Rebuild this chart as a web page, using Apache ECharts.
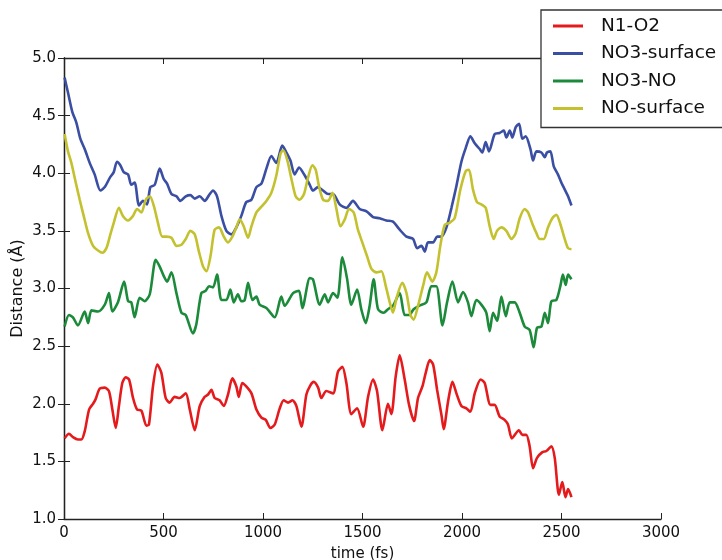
<!DOCTYPE html>
<html>
<head>
<meta charset="utf-8">
<script src="https://cdn.jsdelivr.net/npm/echarts@6/dist/echarts.min.js"></script>
<style>
  html, body { margin: 0; padding: 0; background: #fff; }
  #chart { width: 722px; height: 560px; }
</style>
</head>
<body>
<div id="chart"></div>
<script>
// Axis ticks
const xTicks = [0, 500, 1000, 1500, 2000, 2500, 3000];
const yTicks = [1.0, 1.5, 2.0, 2.5, 3.0, 3.5, 4.0, 4.5, 5.0];

// N1-O2 distance over time (fs, Å)
const n1o2Time = [3, 25, 45, 70, 87, 104, 126, 146, 159, 179, 205, 226, 243, 260, 276, 293, 310, 327, 347, 367, 389, 414, 427, 447, 469, 489, 511, 531, 556, 581, 612, 632, 657, 682, 707, 724, 741, 757, 782, 803, 824, 846, 866, 878, 896, 916, 942, 967, 992, 1014, 1037, 1059, 1084, 1104, 1126, 1148, 1168, 1193, 1218, 1238, 1255, 1277, 1293, 1318, 1352, 1377, 1399, 1419, 1444, 1473, 1503, 1528, 1553, 1573, 1600, 1628, 1645, 1667, 1687, 1712, 1734, 1759, 1779, 1801, 1818, 1838, 1855, 1875, 1897, 1908, 1930, 1952, 1972, 1997, 2022, 2042, 2064, 2094, 2114, 2143, 2164, 2189, 2214, 2231, 2251, 2286, 2303, 2323, 2340, 2357, 2377, 2404, 2424, 2449, 2466, 2487, 2504, 2520, 2533, 2550];
const n1o2Value = [1.70, 1.74, 1.71, 1.69, 1.69, 1.76, 1.95, 2.00, 2.04, 2.13, 2.14, 2.11, 1.95, 1.79, 1.98, 2.18, 2.23, 2.21, 2.05, 1.95, 1.94, 1.81, 1.82, 2.15, 2.34, 2.27, 2.05, 2.01, 2.06, 2.05, 2.09, 1.95, 1.77, 1.98, 2.06, 2.08, 2.12, 2.05, 2.03, 1.98, 2.08, 2.22, 2.15, 2.06, 2.18, 2.15, 2.09, 1.95, 1.88, 1.86, 1.79, 1.82, 1.96, 2.03, 2.01, 2.03, 1.98, 1.80, 2.08, 2.16, 2.19, 2.14, 2.05, 2.11, 2.09, 2.28, 2.32, 2.18, 1.91, 1.96, 1.80, 2.06, 2.21, 2.11, 1.77, 2.00, 1.91, 2.24, 2.42, 2.21, 1.99, 1.85, 2.05, 2.15, 2.27, 2.38, 2.34, 2.12, 1.90, 1.78, 2.02, 2.19, 2.09, 1.98, 1.96, 1.93, 2.09, 2.21, 2.18, 1.99, 1.99, 1.89, 1.86, 1.82, 1.70, 1.77, 1.73, 1.73, 1.63, 1.44, 1.53, 1.58, 1.59, 1.63, 1.53, 1.21, 1.32, 1.19, 1.26, 1.19];

// NO3-surface distance
const no3SurfTime = [3, 20, 42, 62, 82, 104, 129, 154, 183, 205, 230, 250, 266, 283, 300, 322, 338, 355, 377, 397, 417, 434, 456, 481, 501, 518, 540, 565, 585, 612, 635, 657, 682, 707, 729, 749, 769, 791, 816, 841, 866, 891, 916, 942, 967, 992, 1017, 1042, 1067, 1097, 1118, 1138, 1159, 1181, 1210, 1235, 1251, 1276, 1302, 1327, 1352, 1385, 1419, 1452, 1486, 1520, 1553, 1586, 1620, 1653, 1687, 1721, 1754, 1774, 1796, 1813, 1829, 1855, 1875, 1897, 1922, 1947, 1972, 1997, 2019, 2042, 2064, 2089, 2102, 2119, 2136, 2164, 2189, 2210, 2223, 2240, 2253, 2270, 2287, 2303, 2320, 2344, 2357, 2374, 2399, 2416, 2427, 2444, 2461, 2482, 2499, 2516, 2533, 2550];
const no3SurfValue = [4.83, 4.70, 4.53, 4.44, 4.30, 4.21, 4.09, 3.99, 3.85, 3.88, 3.96, 4.01, 4.10, 4.07, 4.01, 3.99, 3.90, 3.92, 3.72, 3.76, 3.73, 3.88, 3.90, 4.04, 3.95, 3.91, 3.82, 3.80, 3.76, 3.80, 3.81, 3.78, 3.80, 3.76, 3.81, 3.85, 3.80, 3.63, 3.50, 3.47, 3.53, 3.63, 3.75, 3.77, 3.88, 3.91, 4.04, 4.15, 4.09, 4.24, 4.18, 4.11, 3.99, 4.05, 3.98, 3.90, 3.85, 3.88, 3.85, 3.82, 3.82, 3.73, 3.70, 3.76, 3.69, 3.67, 3.62, 3.61, 3.59, 3.58, 3.51, 3.45, 3.43, 3.35, 3.37, 3.32, 3.40, 3.40, 3.45, 3.45, 3.53, 3.70, 3.89, 4.10, 4.22, 4.32, 4.26, 4.21, 4.18, 4.27, 4.19, 4.34, 4.35, 4.37, 4.31, 4.37, 4.31, 4.40, 4.43, 4.30, 4.32, 4.21, 4.11, 4.19, 4.18, 4.14, 4.18, 4.19, 4.06, 3.99, 3.92, 3.86, 3.80, 3.72];

// NO3-NO distance
const no3NoTime = [3, 25, 45, 70, 104, 121, 138, 171, 205, 226, 243, 271, 302, 322, 338, 355, 380, 405, 431, 461, 481, 501, 518, 540, 565, 590, 612, 648, 665, 690, 712, 729, 749, 769, 791, 816, 836, 853, 874, 891, 908, 925, 947, 967, 983, 1017, 1059, 1092, 1109, 1151, 1181, 1198, 1235, 1251, 1285, 1310, 1327, 1352, 1374, 1399, 1422, 1444, 1473, 1494, 1516, 1536, 1556, 1578, 1606, 1628, 1653, 1687, 1712, 1734, 1757, 1784, 1821, 1846, 1871, 1902, 1925, 1952, 1980, 2005, 2030, 2047, 2072, 2097, 2122, 2139, 2156, 2176, 2198, 2220, 2240, 2265, 2290, 2315, 2340, 2360, 2377, 2399, 2416, 2432, 2449, 2474, 2494, 2507, 2521, 2533, 2550];
const no3NoValue = [2.67, 2.77, 2.75, 2.68, 2.80, 2.70, 2.81, 2.80, 2.86, 2.96, 2.80, 2.88, 3.06, 2.89, 2.88, 2.75, 2.92, 2.89, 2.95, 3.25, 3.19, 3.11, 3.06, 3.14, 2.96, 2.79, 2.77, 2.61, 2.69, 2.96, 2.98, 3.02, 3.01, 3.12, 2.90, 2.90, 2.99, 2.88, 2.95, 2.89, 2.90, 3.05, 2.90, 2.93, 2.86, 2.83, 2.75, 2.93, 2.85, 2.96, 2.98, 2.83, 3.09, 3.08, 2.86, 2.95, 2.88, 2.96, 2.92, 3.27, 3.09, 2.86, 2.99, 2.82, 2.70, 2.85, 3.08, 2.82, 2.79, 2.82, 2.85, 2.96, 2.77, 2.77, 2.82, 2.85, 2.88, 3.02, 3.02, 2.68, 2.88, 3.06, 2.88, 2.97, 2.88, 2.76, 2.90, 2.86, 2.79, 2.63, 2.79, 2.72, 2.93, 2.76, 2.88, 2.88, 2.79, 2.67, 2.64, 2.49, 2.66, 2.67, 2.79, 2.70, 2.89, 2.90, 3.02, 3.12, 3.03, 3.12, 3.08];

// NO-surface distance
const noSurfTime = [3, 20, 37, 59, 79, 99, 121, 146, 171, 193, 213, 230, 250, 276, 296, 322, 347, 367, 389, 411, 431, 451, 472, 494, 515, 540, 565, 590, 612, 635, 657, 678, 699, 716, 736, 757, 779, 803, 824, 846, 866, 883, 903, 925, 942, 967, 992, 1017, 1042, 1067, 1088, 1101, 1121, 1143, 1164, 1184, 1206, 1226, 1248, 1265, 1281, 1302, 1327, 1349, 1369, 1389, 1411, 1432, 1456, 1477, 1499, 1523, 1545, 1570, 1595, 1617, 1637, 1653, 1673, 1700, 1721, 1741, 1757, 1779, 1804, 1824, 1851, 1871, 1891, 1913, 1938, 1963, 1992, 2019, 2035, 2055, 2075, 2097, 2119, 2139, 2159, 2176, 2198, 2223, 2248, 2270, 2290, 2315, 2332, 2354, 2374, 2390, 2411, 2432, 2454, 2474, 2494, 2516, 2533, 2550];
const noSurfValue = [4.34, 4.19, 4.09, 3.92, 3.77, 3.63, 3.48, 3.37, 3.33, 3.31, 3.35, 3.45, 3.57, 3.70, 3.63, 3.59, 3.63, 3.69, 3.66, 3.77, 3.80, 3.72, 3.57, 3.45, 3.45, 3.44, 3.37, 3.38, 3.43, 3.50, 3.47, 3.32, 3.19, 3.15, 3.28, 3.51, 3.53, 3.45, 3.40, 3.45, 3.53, 3.60, 3.54, 3.44, 3.54, 3.66, 3.71, 3.76, 3.83, 3.98, 4.17, 4.20, 4.12, 3.95, 3.80, 3.77, 3.82, 3.96, 4.07, 4.03, 3.89, 3.77, 3.76, 3.83, 3.69, 3.54, 3.60, 3.69, 3.66, 3.51, 3.40, 3.28, 3.17, 3.14, 3.15, 3.02, 2.88, 2.79, 2.93, 3.05, 2.96, 2.77, 2.73, 2.85, 3.02, 3.14, 3.06, 3.14, 3.37, 3.55, 3.57, 3.61, 3.86, 4.02, 4.03, 3.86, 3.75, 3.73, 3.70, 3.54, 3.43, 3.50, 3.53, 3.50, 3.43, 3.48, 3.61, 3.69, 3.66, 3.56, 3.48, 3.43, 3.43, 3.53, 3.61, 3.64, 3.56, 3.43, 3.35, 3.34];

const seriesNames = ['N1-O2', 'NO3-surface', 'NO3-NO', 'NO-surface'];
const seriesColors = ['#e41a1c', '#3a4ea3', '#1b8a3a', '#c3c22e'];
const seriesTimes = [n1o2Time, no3SurfTime, no3NoTime, noSurfTime];
const seriesValues = [n1o2Value, no3SurfValue, no3NoValue, noSurfValue];

const pairs = (ts, vs) => ts.map((t, i) => [t, vs[i]]);

const font = 'DejaVu Sans';
const frameColor = '#222';

const chart = echarts.init(document.getElementById('chart'), null, { renderer: 'canvas' });

const tickAxisBase = {
  axisLine: { show: true, lineStyle: { color: frameColor, width: 1.3 } },
  axisTick: { show: true, inside: true, length: 6, lineStyle: { color: frameColor, width: 1 } },
  splitLine: { show: false }
};

chart.setOption({
  animation: false,
  backgroundColor: '#fff',
  textStyle: { fontFamily: font },
  grid: { left: 64, right: 61, top: 58, bottom: 41, containLabel: false, outerBoundsMode: 'none' },
  legend: {
    data: seriesNames,
    orient: 'vertical',
    left: 541,
    top: 10,
    padding: [6, 40, 9, 12],
    itemGap: 7.5,
    itemWidth: 30,
    itemHeight: 3,
    icon: 'rect',
    backgroundColor: '#fff',
    borderColor: '#333',
    borderWidth: 1.3,
    borderRadius: 0,
    z: 10,
    textStyle: { fontFamily: font, fontSize: 18.5, color: '#111', lineHeight: 20, padding: [0, 0, 0, 13] }
  },
  xAxis: [
    Object.assign({}, tickAxisBase, {
      type: 'value',
      min: xTicks[0], max: xTicks[xTicks.length - 1], interval: 500,
      position: 'bottom',
      name: 'time (fs)',
      nameLocation: 'middle',
      nameGap: 28,
      nameMoveOverlap: false,
      nameTextStyle: { fontFamily: font, fontSize: 15, color: '#111' },
      axisLabel: { fontFamily: font, fontSize: 15, color: '#111', margin: 7, formatter: v => String(v) }
    }),
    Object.assign({}, tickAxisBase, {
      type: 'value',
      min: xTicks[0], max: xTicks[xTicks.length - 1], interval: 500,
      position: 'top',
      axisLabel: { show: false }
    })
  ],
  yAxis: [
    Object.assign({}, tickAxisBase, {
      type: 'value',
      min: yTicks[0], max: yTicks[yTicks.length - 1], interval: 0.5,
      position: 'left',
      name: 'Distance (Å)',
      nameLocation: 'middle',
      nameGap: 38,
      nameMoveOverlap: false,
      nameTextStyle: { fontFamily: font, fontSize: 16, color: '#111' },
      axisLabel: { fontFamily: font, fontSize: 15, color: '#111', margin: 8, formatter: v => v.toFixed(1) }
    }),
    Object.assign({}, tickAxisBase, {
      type: 'value',
      min: yTicks[0], max: yTicks[yTicks.length - 1], interval: 0.5,
      position: 'right',
      axisLabel: { show: false }
    })
  ],
  series: seriesNames.map((name, i) => ({
    name: name,
    type: 'line',
    xAxisIndex: 0,
    yAxisIndex: 0,
    data: pairs(seriesTimes[i], seriesValues[i]),
    showSymbol: false,
    smooth: 0.25,
    color: seriesColors[i],
    lineStyle: { width: 2.6, color: seriesColors[i] },
    z: 2
  }))
});
</script>
</body>
</html>
